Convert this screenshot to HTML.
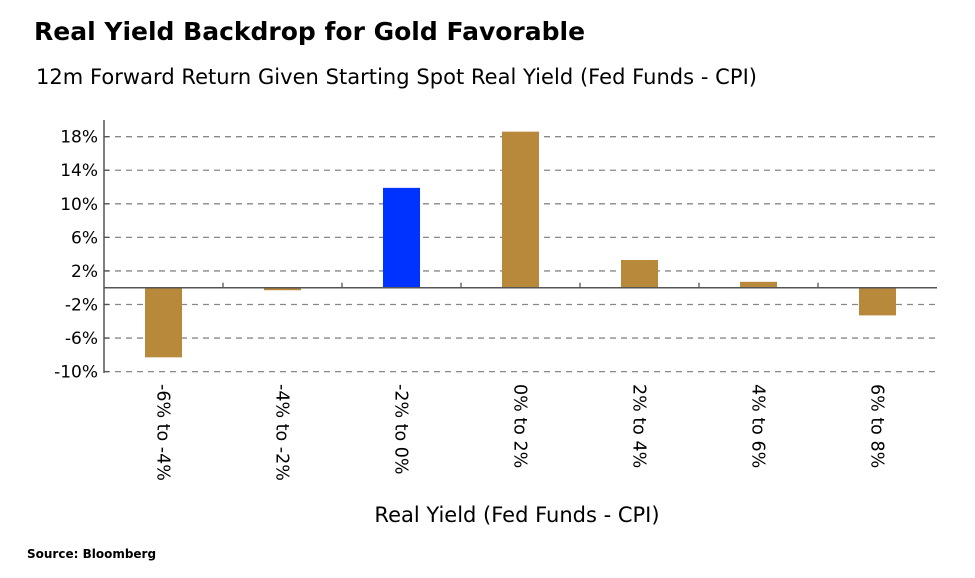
<!DOCTYPE html>
<html><head><meta charset="utf-8"><style>
body{margin:0;background:#fff;width:975px;height:573px;overflow:hidden;font-family:"Liberation Sans","DejaVu Sans",sans-serif}
</style></head><body>
<svg width="975" height="573">
<text x="34" y="40" font-size="25" font-weight="bold" font-family="DejaVu Sans,sans-serif">Real Yield Backdrop for Gold Favorable</text>
<text x="36" y="84" font-size="21" font-family="DejaVu Sans,sans-serif" textLength="721">12m Forward Return Given Starting Spot Real Yield (Fed Funds - CPI)</text>
<g id="plot"></g>
<text x="517" y="522" font-size="21" text-anchor="middle" font-family="DejaVu Sans,sans-serif">Real Yield (Fed Funds - CPI)</text>
<text x="27" y="558" font-size="12" font-weight="bold" font-family="DejaVu Sans,sans-serif">Source: Bloomberg</text>
</svg>
<script>
const categories=["-6% to -4%","-4% to -2%","-2% to 0%","0% to 2%","2% to 4%","4% to 6%","6% to 8%"];
const values=[-8.3,-0.3,11.9,18.6,3.3,0.7,-3.3];
const highlight=[false,false,true,false,false,false,false];
const ticks=[-10,-6,-2,2,6,10,14,18];
const tickLabels=["-10%","-6%","-2%","2%","6%","10%","14%","18%"];
const NS="http://www.w3.org/2000/svg";
const g=document.getElementById('plot');
const x0=104,cw=119,y0=287.7,ppu=8.39;
const y=v=>y0-v*ppu;
const xc=i=>x0+cw*(i+0.5);
function mk(t,a){const e=document.createElementNS(NS,t);for(const k in a)e.setAttribute(k,a[k]);g.appendChild(e);return e;}
ticks.forEach((t,i)=>{
 const l=mk('line',{x1:x0,x2:x0+cw*categories.length,y1:y(t),y2:y(t),stroke:'#888','stroke-width':1.3,'stroke-dasharray':'6,5'});
 
 
 const tk=mk('line',{x1:x0,x2:x0+5,y1:y(t),y2:y(t),stroke:'#555','stroke-width':1.3});
 
 
 const tx=mk('text',{x:x0-6,y:y(t)+6,'font-size':17,'text-anchor':'end','font-family':'DejaVu Sans,sans-serif'});
 tx.textContent=tickLabels[i];
 
 
});
values.forEach((v,i)=>{
 const r=mk('rect',{x:xc(i)-18.5,width:37,y:Math.min(y(v),y0),height:Math.abs(y(v)-y0),fill:highlight[i]?'#0033ff':'#b8893a'});
 
 
 const lb=mk('text',{transform:`translate(${xc(i)-6},384) rotate(90)`,'font-size':17.5,'font-family':'DejaVu Sans,sans-serif'});
 lb.textContent=categories[i];
 
 
 if(i>0){const t=mk('line',{x1:x0+cw*i,x2:x0+cw*i,y1:y0,y2:y0-5,stroke:'#555','stroke-width':1.3});
 
 }
});
const z=mk('line',{x1:x0,x2:x0+cw*categories.length,y1:y0,y2:y0,stroke:'#555','stroke-width':1.5});


const ax=mk('line',{x1:x0,x2:x0,y1:120,y2:373,stroke:'#555','stroke-width':1.5});


</script>
</body></html>
